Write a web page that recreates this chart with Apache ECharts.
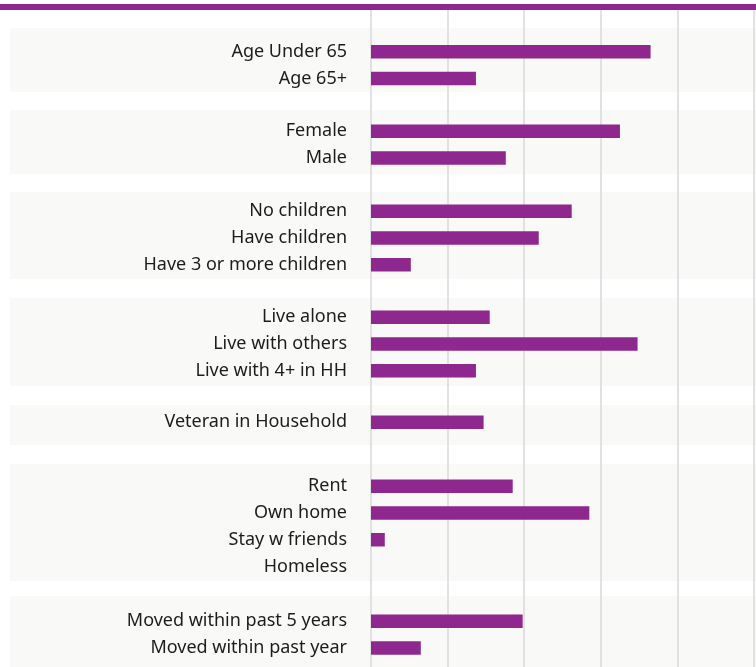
<!DOCTYPE html>
<html>
<head>
<meta charset="utf-8">
<script src="https://cdn.jsdelivr.net/npm/echarts@6/dist/echarts.min.js"></script>
<style>html,body{margin:0;padding:0;background:#fff}#c{width:756px;height:667px}</style>
</head>
<body>
<div id="c"></div>
<script>
// ---- data ----
const ageLabels = ["Age Under 65", "Age 65+"];
const ageValues = [36.5, 13.7];
const genderLabels = ["Female", "Male"];
const genderValues = [32.5, 17.6];
const childrenLabels = ["No children", "Have children", "Have 3 or more children"];
const childrenValues = [26.2, 21.9, 5.2];
const householdLabels = ["Live alone", "Live with others", "Live with 4+ in HH"];
const householdValues = [15.5, 34.8, 13.7];
const veteranLabels = ["Veteran in Household"];
const veteranValues = [14.7];
const housingLabels = ["Rent", "Own home", "Stay w friends", "Homeless"];
const housingValues = [18.5, 28.5, 1.8, 0];
const movedLabels = ["Moved within past 5 years", "Moved within past year"];
const movedValues = [19.8, 6.5];
const xTicks = [0, 10, 20, 30, 40, 50];

const groups = [
  [ageLabels, ageValues],
  [genderLabels, genderValues],
  [childrenLabels, childrenValues],
  [householdLabels, householdValues],
  [veteranLabels, veteranValues],
  [housingLabels, housingValues],
  [movedLabels, movedValues]
];

// ---- layout (pixels) ----
const PLOT_LEFT = 371, PLOT_WIDTH = 383;
const ROW = 26.7;
const gridTops = [38.5, 118, 198, 304, 409, 473, 608];
const bands = [[28, 64], [110, 64], [192, 87], [298, 88], [405, 40], [464, 117], [596, 75]];
const PURPLE = '#8e288e';

const grids = [{ left: PLOT_LEFT, width: PLOT_WIDTH, top: 10, bottom: 0 }];
const xAxes = [{
  gridIndex: 0, type: 'value', min: xTicks[0], max: xTicks[xTicks.length - 1],
  interval: xTicks[1] - xTicks[0],
  axisLabel: { show: false }, axisLine: { show: false }, axisTick: { show: false },
  splitLine: { show: true, lineStyle: { color: '#d9d9db', width: 1.5 } }
}];
const yAxes = [{ gridIndex: 0, type: 'value', show: false }];
const series = [];

groups.forEach((g, i) => {
  const [labels, values] = g;
  const gi = i + 1;
  grids.push({ left: PLOT_LEFT, width: PLOT_WIDTH, top: gridTops[i], height: labels.length * ROW });
  xAxes.push({
    gridIndex: gi, type: 'value', min: xTicks[0], max: xTicks[xTicks.length - 1],
    show: false, splitLine: { show: false }
  });
  yAxes.push({
    gridIndex: gi, type: 'category', data: labels, inverse: true,
    axisLine: { show: false }, axisTick: { show: false },
    axisLabel: { margin: 24, fontSize: 18, color: '#1c1c1c', fontFamily: 'Noto Sans' }
  });
  series.push({
    type: 'bar', xAxisIndex: gi, yAxisIndex: gi, data: values,
    barWidth: 13.5, itemStyle: { color: PURPLE }, silent: true
  });
});

const graphics = bands.map(b => ({
  type: 'rect', z: -10, silent: true,
  shape: { x: 10, y: b[0], width: 746, height: b[1] },
  style: { fill: '#f9f9f7' }
}));
graphics.push({
  type: 'rect', z: 10, silent: true,
  shape: { x: 0, y: 4, width: 756, height: 6 },
  style: { fill: PURPLE }
});

const chart = echarts.init(document.getElementById('c'), null, { renderer: 'canvas' });
chart.setOption({
  animation: false,
  backgroundColor: '#fff',
  grid: grids,
  xAxis: xAxes,
  yAxis: yAxes,
  series: series,
  graphic: graphics
});
</script>
</body>
</html>
